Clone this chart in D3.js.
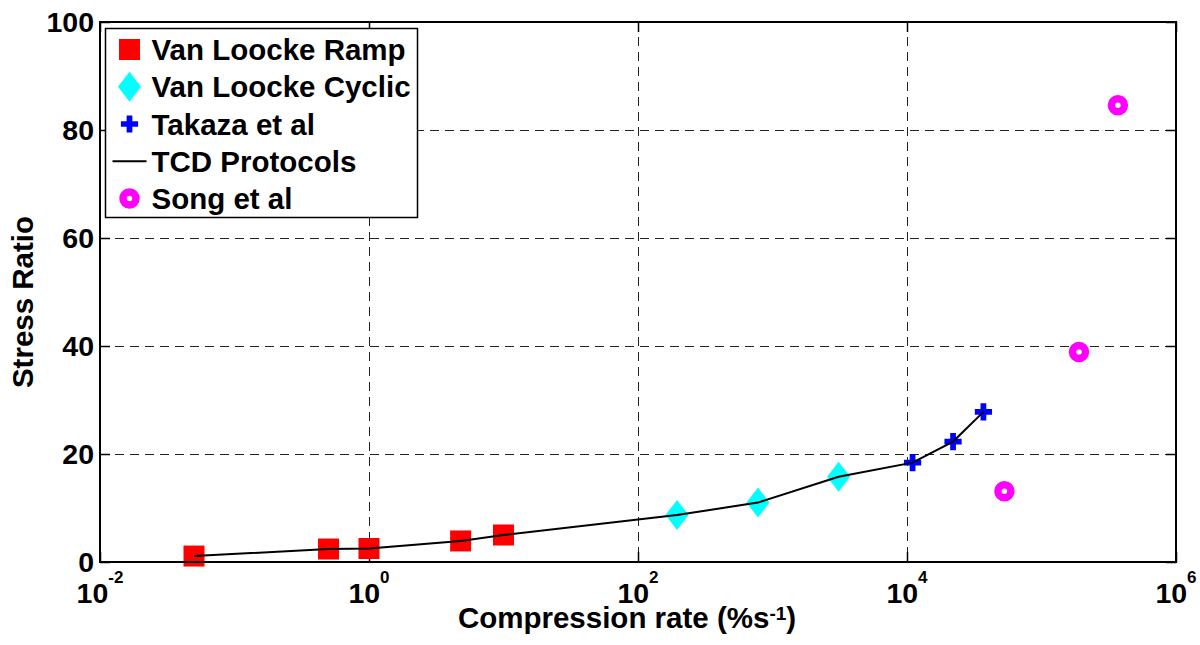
<!DOCTYPE html>
<html>
<head>
<meta charset="utf-8">
<script src="https://cdn.jsdelivr.net/npm/d3@7"></script>
<style>
  body { margin: 0; background: #fff; }
  text { font-family: Arial, "Liberation Sans", sans-serif; font-weight: bold; }
</style>
</head>
<body>
<script>
// data
const rampX = [0.05, 0.5, 1, 4.8, 10];
const rampY = [1.1, 2.4, 2.5, 3.9, 5.0];
const cyclicX = [195, 780, 3100];
const cyclicY = [8.7, 11.0, 15.8];
const takazaX = [11000, 22000, 37000];
const takazaY = [18.4, 22.3, 27.8];
const tcdX = [0.05, 0.5, 1, 4.8, 10, 195, 780, 3100, 11000, 22000, 37000];
const tcdY = [1.1, 2.4, 2.5, 3.9, 5.0, 8.7, 11.0, 15.8, 18.4, 22.3, 27.8];
const songX = [53000, 190000, 370000];
const songY = [13.1, 38.9, 84.6];
const xTickExp = [-2, 0, 2, 4, 6];
const yTicks = [0, 20, 40, 60, 80, 100];
const legendLabels = ["Van Loocke Ramp", "Van Loocke Cyclic", "Takaza et al", "TCD Protocols", "Song et al"];

const width = 1200, height = 645;
const margin = { top: 22, right: 24, bottom: 83, left: 100 };

const svg = d3.select("body").append("svg")
  .attr("width", width)
  .attr("height", height);

const x = d3.scaleLog().domain([1e-2, 1e6]).range([margin.left, width - margin.right]);
const y = d3.scaleLinear().domain([0, 100]).range([height - margin.bottom, margin.top]);

const zip = (a, b) => a.map((v, i) => [v, b[i]]);

// grid
const grid = svg.append("g")
  .attr("stroke", "#222")
  .attr("stroke-width", 1)
  .attr("stroke-dasharray", "9,6");
grid.selectAll(".gx")
  .data(xTickExp.slice(1, -1))
  .join("line")
  .attr("x1", (d) => Math.round(x(Math.pow(10, d))) + 0.5)
  .attr("x2", (d) => Math.round(x(Math.pow(10, d))) + 0.5)
  .attr("y1", y(100))
  .attr("y2", y(0));
grid.selectAll(".gy")
  .data(yTicks.slice(1, -1))
  .join("line")
  .attr("y1", (d) => Math.round(y(d)) + 0.5)
  .attr("y2", (d) => Math.round(y(d)) + 0.5)
  .attr("x1", x(1e-2))
  .attr("x2", x(1e6));

// axes with inward ticks on all four sides
const xTickVals = xTickExp.map((e) => Math.pow(10, e));
const axisStyle = (g) => {
  g.select(".domain").remove();
  g.selectAll("line").attr("stroke", "#000").attr("stroke-width", 1.5);
};
svg.append("g")
  .attr("transform", `translate(0,${y(0)})`)
  .call(d3.axisBottom(x).tickValues(xTickVals).tickSize(-10).tickFormat(""))
  .call(axisStyle);
svg.append("g")
  .attr("transform", `translate(0,${y(100)})`)
  .call(d3.axisTop(x).tickValues(xTickVals).tickSize(-10).tickFormat(""))
  .call(axisStyle);
svg.append("g")
  .attr("transform", `translate(${x(1e-2)},0)`)
  .call(d3.axisLeft(y).tickValues(yTicks).tickSize(-10).tickFormat(""))
  .call(axisStyle);
svg.append("g")
  .attr("transform", `translate(${x(1e6)},0)`)
  .call(d3.axisRight(y).tickValues(yTicks).tickSize(-10).tickFormat(""))
  .call(axisStyle);

// tick labels
svg.append("g")
  .selectAll("text")
  .data(yTicks)
  .join("text")
  .attr("x", x(1e-2) - 6)
  .attr("y", (d) => y(d) + 10)
  .attr("text-anchor", "end")
  .attr("font-size", 28.5)
  .text((d) => d);

const xl = svg.append("g")
  .selectAll("text")
  .data(xTickExp)
  .join("text")
  .attr("x", (d) => x(Math.pow(10, d)))
  .attr("y", 603)
  .attr("text-anchor", "middle")
  .attr("font-size", 28.5);
xl.append("tspan").text("10");
xl.append("tspan").attr("dy", -20).attr("font-size", 17).text((d) => d);

// axis titles
const xt = svg.append("text")
  .attr("x", 627)
  .attr("y", 628)
  .attr("text-anchor", "middle")
  .attr("font-size", 29.5);
xt.append("tspan").text("Compression rate (%s");
xt.append("tspan").attr("dy", -8).attr("font-size", 19).text("-1");
xt.append("tspan").attr("dy", 8).text(")");

svg.append("text")
  .attr("transform", "translate(33,302) rotate(-90)")
  .attr("text-anchor", "middle")
  .attr("font-size", 29.5)
  .text("Stress Ratio");

// markers
const diamond = "M0,-15L11.5,0L0,15L-11.5,0Z";
const cross = d3.symbol().type(d3.symbolCross).size(165);

svg.append("g")
  .selectAll("rect")
  .data(zip(rampX, rampY))
  .join("rect")
  .attr("x", (d) => x(d[0]) - 10.5)
  .attr("y", (d) => y(d[1]) - 10.5)
  .attr("width", 21)
  .attr("height", 21)
  .attr("fill", "#ff0000");

svg.append("g")
  .selectAll("path")
  .data(zip(cyclicX, cyclicY))
  .join("path")
  .attr("transform", (d) => `translate(${x(d[0])},${y(d[1])})`)
  .attr("d", diamond)
  .attr("fill", "#00ffff");

svg.append("g")
  .selectAll("path")
  .data(zip(takazaX, takazaY))
  .join("path")
  .attr("transform", (d) => `translate(${x(d[0])},${y(d[1])})`)
  .attr("d", cross)
  .attr("fill", "#0000ff");

svg.append("path")
  .datum(zip(tcdX, tcdY))
  .attr("fill", "none")
  .attr("stroke", "#000")
  .attr("stroke-width", 2)
  .attr("d", d3.line().x((d) => x(d[0])).y((d) => y(d[1])));

svg.append("g")
  .selectAll("circle")
  .data(zip(songX, songY))
  .join("circle")
  .attr("cx", (d) => x(d[0]))
  .attr("cy", (d) => y(d[1]))
  .attr("r", 6.5)
  .attr("fill", "none")
  .attr("stroke", "#ff00ff")
  .attr("stroke-width", 7.5);

// axes box
svg.append("rect")
  .attr("x", x(1e-2))
  .attr("y", y(100))
  .attr("width", x(1e6) - x(1e-2))
  .attr("height", y(0) - y(100))
  .attr("fill", "none")
  .attr("stroke", "#000")
  .attr("stroke-width", 2);

// legend
const lg = svg.append("g");
lg.append("rect")
  .attr("x", 105.5)
  .attr("y", 28.5)
  .attr("width", 312)
  .attr("height", 189)
  .attr("fill", "#fff")
  .attr("stroke", "#000")
  .attr("stroke-width", 1.5);

const rowY = (i) => 49.5 + i * 37.25;
const mx = 129.5;
lg.append("rect").attr("x", mx - 10.5).attr("y", rowY(0) - 10.5)
  .attr("width", 21).attr("height", 21).attr("fill", "#ff0000");
lg.append("path").attr("transform", `translate(${mx},${rowY(1)})`)
  .attr("d", diamond).attr("fill", "#00ffff");
lg.append("path").attr("transform", `translate(${mx},${rowY(2)})`)
  .attr("d", cross).attr("fill", "#0000ff");
lg.append("line").attr("x1", 112.5).attr("x2", 146.5)
  .attr("y1", rowY(3)).attr("y2", rowY(3))
  .attr("stroke", "#000").attr("stroke-width", 2);
lg.append("circle").attr("cx", mx).attr("cy", rowY(4)).attr("r", 6.5)
  .attr("fill", "none").attr("stroke", "#ff00ff").attr("stroke-width", 7.5);

lg.selectAll(".lt")
  .data(legendLabels)
  .join("text")
  .attr("x", 151.5)
  .attr("y", (d, i) => rowY(i) + 10.5)
  .attr("font-size", 29.5)
  .text((d) => d);
</script>
</body>
</html>
